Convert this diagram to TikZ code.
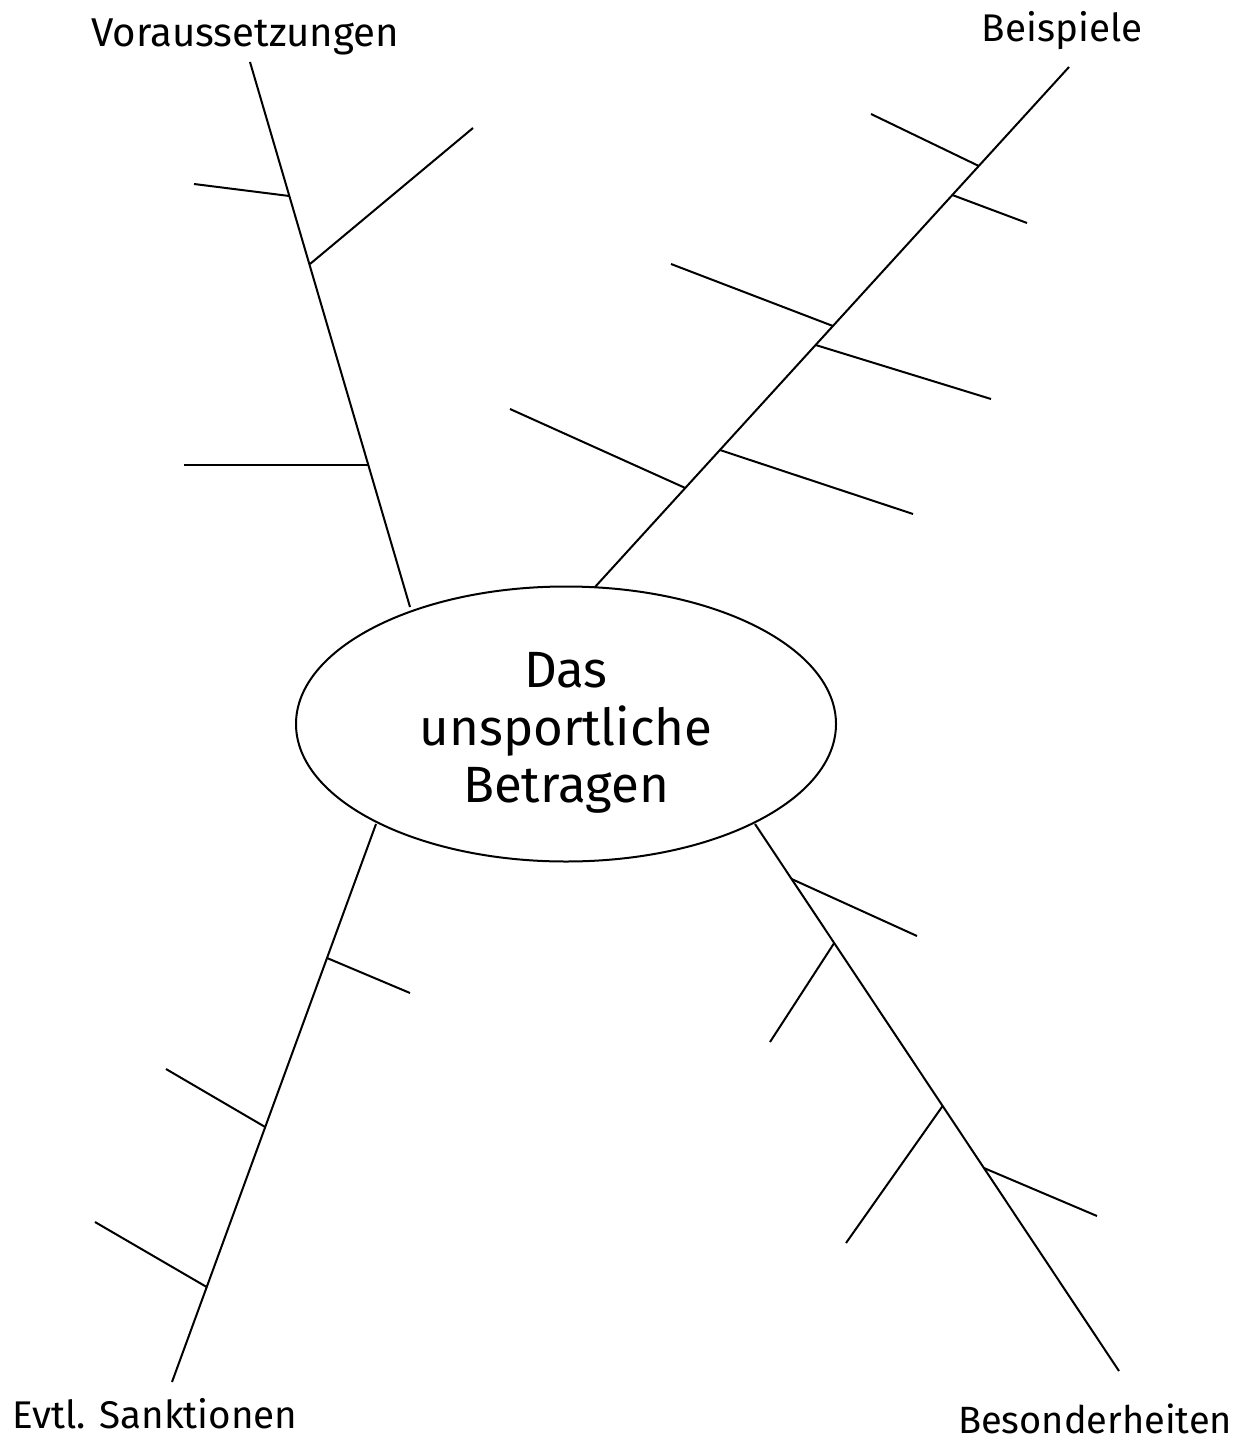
\documentclass[tikz,border=0pt]{standalone}
\usepackage{fontspec}
\setmainfont{Fira Sans}
\usetikzlibrary{shapes.geometric}
\begin{document}
\begin{tikzpicture}[x=0.5pt,y=-0.5pt,
  line/.style={draw=black,line width=1pt},
  lbl/.style={inner sep=0pt,anchor=base,font=\fontsize{19.3}{22}\selectfont},
  ttl/.style={inner sep=0pt,align=center,font=\fontsize{25.5}{28.75}\selectfont}]
\useasboundingbox (0,0) rectangle (1245,1443);
% centre
\node[ellipse,draw,line width=1pt,minimum width=270pt,minimum height=137.5pt,inner sep=0pt] (ell) at (566,724) {};
\node[ttl] (title) at (566,733) {Das\\unsportliche\\Betragen};
% labels
\node[lbl,font=\fontsize{20.1}{22}\selectfont] (lv) at (245,47) {Voraussetzungen};
\node[lbl] (lb) at (1062,42) {Beispiele};
\node[lbl] (ls) at (155,1428) {Evtl. Sanktionen};
\node[lbl,font=\fontsize{19}{22}\selectfont] (lh) at (1095,1433) {Besonderheiten};
% Voraussetzungen branch
\coordinate (v0) at (250,62);
\coordinate (v1) at (410,607);
\coordinate (va) at (289.3,196); \coordinate (va2) at (194,184);
\coordinate (vb) at (310,264);   \coordinate (vb2) at (473,128);
\coordinate (vc) at (369,465);   \coordinate (vc2) at (184,465);
\draw[line] (v0) -- (v1);
\draw[line] (va) -- (va2);
\draw[line] (vb) -- (vb2);
\draw[line] (vc) -- (vc2);
% Beispiele branch
\coordinate (b0) at (1069,67);
\coordinate (b1) at (595,587);
\coordinate (ba) at (978.8,166); \coordinate (ba2) at (871,114);
\coordinate (bb) at (952.3,195); \coordinate (bb2) at (1027,223);
\coordinate (bc) at (832.9,326); \coordinate (bc2) at (671,264);
\coordinate (bd) at (815.6,345); \coordinate (bd2) at (991,399);
\coordinate (be) at (685.3,488); \coordinate (be2) at (510,409);
\coordinate (bf) at (719.9,450); \coordinate (bf2) at (913,514);
\draw[line] (b0) -- (b1);
\draw[line] (ba) -- (ba2);
\draw[line] (bb) -- (bb2);
\draw[line] (bc) -- (bc2);
\draw[line] (bd) -- (bd2);
\draw[line] (be) -- (be2);
\draw[line] (bf) -- (bf2);
% Evtl. Sanktionen branch
\coordinate (s0) at (376,824);
\coordinate (s1) at (172,1382);
\coordinate (sa) at (327,958);    \coordinate (sa2) at (410,993);
\coordinate (sb) at (265.2,1127); \coordinate (sb2) at (166,1069);
\coordinate (sc) at (206.7,1287); \coordinate (sc2) at (95,1222);
\draw[line] (s0) -- (s1);
\draw[line] (sa) -- (sa2);
\draw[line] (sb) -- (sb2);
\draw[line] (sc) -- (sc2);
% Besonderheiten branch
\coordinate (h0) at (755,824);
\coordinate (h1) at (1119,1371);
\coordinate (ha) at (791.6,879);  \coordinate (ha2) at (917,936);
\coordinate (hb) at (834.2,943);  \coordinate (hb2) at (770,1042);
\coordinate (hc) at (942.6,1106); \coordinate (hc2) at (846,1243);
\coordinate (hd) at (983.9,1168); \coordinate (hd2) at (1097,1216);
\draw[line] (h0) -- (h1);
\draw[line] (ha) -- (ha2);
\draw[line] (hb) -- (hb2);
\draw[line] (hc) -- (hc2);
\draw[line] (hd) -- (hd2);
\end{tikzpicture}
\end{document}
